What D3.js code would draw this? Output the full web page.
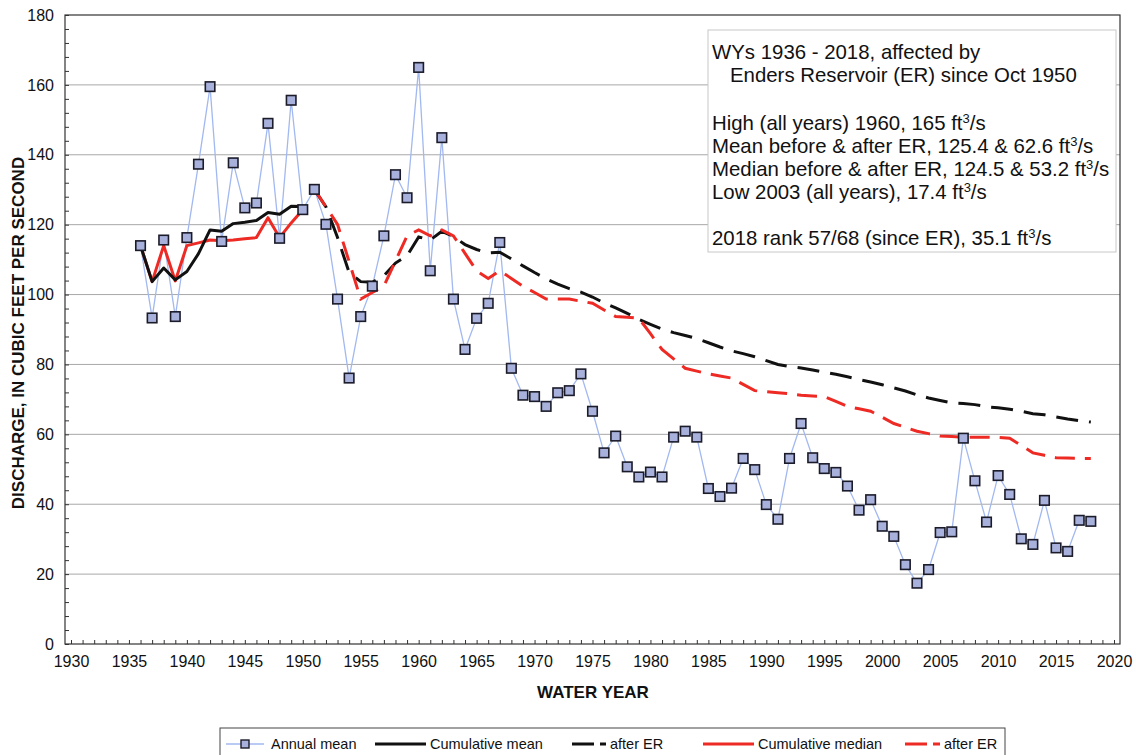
<!DOCTYPE html>
<html>
<head>
<meta charset="utf-8">
<script src="https://cdn.jsdelivr.net/npm/d3@7"></script>
<style>
  body { margin: 0; background: #fff; }
  svg { display: block; font-family: "Liberation Sans", Arial, sans-serif; }
</style>
</head>
<body>
<div id="chart"></div>
<script>
// water years 1936-2018
const years = d3.range(1936, 2019);
const annualMean = [
  114.0, 93.3, 115.6, 93.7, 116.3, 137.3, 159.5, 115.2, 137.7, 124.8,
  126.2, 149.0, 116.1, 155.6, 124.3, 130.1, 120.1, 98.7, 76.1, 93.7,
  102.4, 116.8, 134.3, 127.7, 165.0, 106.8, 144.9, 98.7, 84.3, 93.2,
  97.5, 114.9, 78.9, 71.2, 70.8, 68.0, 71.9, 72.5, 77.3, 66.6,
  54.7, 59.5, 50.7, 47.8, 49.2, 47.8, 59.2, 60.9, 59.2, 44.5,
  42.2, 44.6, 53.1, 49.9, 39.9, 35.7, 53.1, 63.1, 53.3, 50.2,
  49.1, 45.2, 38.3, 41.3, 33.7, 30.8, 22.7, 17.4, 21.3, 31.9,
  32.1, 58.9, 46.7, 34.9, 48.2, 42.8, 30.1, 28.5, 41.1, 27.5,
  26.5, 35.4, 35.1
];

// before Enders Reservoir, 1936-1950
const yearsBefore = d3.range(1936, 1951);
const cumMeanBefore = [114.0, 103.7, 107.6, 104.2, 106.6, 111.7, 118.5, 118.1, 120.3, 120.7, 121.2, 123.5, 123.0, 125.3, 125.2];
const cumMedianBefore = [114.0, 103.7, 114.0, 103.9, 114.0, 114.8, 115.6, 115.4, 115.6, 116.0, 116.3, 122.0, 116.3, 120.5, 124.3];

// after Enders Reservoir, 1951-2018
const yearsAfter = d3.range(1951, 2019);
const cumMeanAfter = [
  130.1, 125.1, 116.3, 106.3, 103.7, 103.5, 105.4, 109.0, 111.1, 116.5,
  115.6, 118.1, 116.6, 114.3, 112.9, 111.9, 112.1, 110.2, 108.2, 106.3,
  104.5, 103.0, 101.7, 100.7, 99.3, 97.6, 96.2, 94.6, 92.9, 91.5,
  90.1, 89.1, 88.3, 87.4, 86.2, 85.0, 83.9, 83.1, 82.2, 81.1,
  80.0, 79.4, 79.0, 78.4, 77.8, 77.2, 76.5, 75.7, 75.0, 74.2,
  73.3, 72.4, 71.3, 70.4, 69.7, 69.0, 68.8, 68.5, 67.9, 67.6,
  67.2, 66.6, 65.9, 65.6, 65.0, 64.4, 63.9, 63.5
];
const cumMedianAfter = [
  130.1, 125.1, 120.1, 109.4, 98.7, 100.6, 102.4, 109.6, 116.8, 118.5,
  116.8, 118.5, 116.8, 111.8, 106.8, 104.6, 106.8, 104.6, 102.4, 100.6,
  98.7, 98.7, 98.7, 98.1, 97.5, 95.6, 93.7, 93.5, 93.2, 88.8,
  84.3, 81.6, 78.9, 78.1, 77.3, 76.7, 76.1, 74.3, 72.5, 72.2,
  71.9, 71.6, 71.2, 71.0, 70.8, 69.4, 68.0, 67.3, 66.6, 64.9,
  63.1, 62.0, 60.9, 60.2, 59.5, 59.4, 59.2, 59.2, 59.2, 59.1,
  58.9, 56.8, 54.7, 54.0, 53.3, 53.2, 53.1, 53.1
];

const yTicks = [0, 20, 40, 60, 80, 100, 120, 140, 160, 180];
const xTicks = [1930, 1935, 1940, 1945, 1950, 1955, 1960, 1965, 1970, 1975, 1980, 1985, 1990, 1995, 2000, 2005, 2010, 2015, 2020];

const noteLines = [
  { text: "WYs 1936 - 2018, affected by" },
  { text: "Enders Reservoir (ER) since Oct 1950", indent: true },
  null,
  { text: "High (all years) 1960, 165 ft", sup: "3", tail: "/s" },
  { text: "Mean before & after ER, 125.4 & 62.6 ft", sup: "3", tail: "/s" },
  { text: "Median before & after ER, 124.5 & 53.2 ft", sup: "3", tail: "/s" },
  { text: "Low 2003 (all years), 17.4 ft", sup: "3", tail: "/s" },
  null,
  { text: "2018 rank 57/68 (since ER), 35.1 ft", sup: "3", tail: "/s" }
];

const legendItems = [
  { label: "Annual mean", kind: "marker", x1: 226, x2: 264, tx: 271 },
  { label: "Cumulative mean", kind: "line", color: "#111", x1: 375, x2: 426, tx: 430 },
  { label: "after ER", kind: "dash", color: "#111", x1: 572, x2: 606, tx: 610 },
  { label: "Cumulative median", kind: "line", color: "#ee2a24", x1: 703, x2: 754, tx: 758 },
  { label: "after ER", kind: "dash", color: "#ee2a24", x1: 905, x2: 940, tx: 944 }
];

const W = 1136, H = 755;
const frame = { left: 65, right: 1120, top: 15, bottom: 644 };

const svg = d3.select("#chart").append("svg")
  .attr("width", W).attr("height", H);

const x = d3.scaleLinear().domain([1930, 2020]).range([71, 1114]);
const y = d3.scaleLinear().domain([0, 180]).range([frame.bottom, frame.top]);

// gridlines
svg.append("g")
  .selectAll("line")
  .data(yTicks.filter(d => d > 0 && d < 180))
  .join("line")
  .attr("x1", frame.left).attr("x2", frame.right)
  .attr("y1", d => y(d)).attr("y2", d => y(d))
  .attr("stroke", "#a8a8a8").attr("stroke-width", 1);

// frame
svg.append("rect")
  .attr("x", frame.left).attr("y", frame.top)
  .attr("width", frame.right - frame.left).attr("height", frame.bottom - frame.top)
  .attr("fill", "none").attr("stroke", "#333").attr("stroke-width", 1.2);

// x axis: minor ticks every year (inward), labels every 5
const xMinor = svg.append("g")
  .attr("transform", `translate(0,${frame.bottom})`)
  .call(d3.axisBottom(x).tickValues(d3.range(1930, 2021)).tickSize(-4).tickFormat(""));
xMinor.select(".domain").remove();
xMinor.selectAll("line").attr("stroke", "#333");

const xMajor = svg.append("g")
  .attr("transform", `translate(0,${frame.bottom})`)
  .call(d3.axisBottom(x).tickValues(xTicks).tickSize(0).tickPadding(12).tickFormat(d3.format("d")));
xMajor.select(".domain").remove();
xMajor.selectAll("text")
  .attr("font-size", 16).attr("fill", "#111")
  .attr("font-family", "Liberation Sans, Arial, sans-serif");

// y axis: minor ticks every 4 (inward), labels every 20
const yMinor = svg.append("g")
  .attr("transform", `translate(${frame.left},0)`)
  .call(d3.axisLeft(y).tickValues(d3.range(0, 181, 4)).tickSize(-4).tickFormat(""));
yMinor.select(".domain").remove();
yMinor.selectAll("line").attr("stroke", "#333");

const yMajor = svg.append("g")
  .attr("transform", `translate(${frame.left},0)`)
  .call(d3.axisLeft(y).tickValues(yTicks).tickSize(0).tickPadding(11));
yMajor.select(".domain").remove();
yMajor.selectAll("text")
  .attr("font-size", 16).attr("fill", "#111")
  .attr("font-family", "Liberation Sans, Arial, sans-serif");

// axis titles
svg.append("text")
  .attr("x", 593).attr("y", 698)
  .attr("text-anchor", "middle")
  .attr("font-size", 17).attr("font-weight", "bold").attr("fill", "#111")
  .text("WATER YEAR");

svg.append("text")
  .attr("transform", "translate(24,333) rotate(-90)")
  .attr("text-anchor", "middle")
  .attr("font-size", 17).attr("font-weight", "bold").attr("fill", "#111")
  .text("DISCHARGE, IN CUBIC FEET PER SECOND");

// annotation box
const note = svg.append("g");
note.append("rect")
  .attr("x", 708).attr("y", 30).attr("width", 408).attr("height", 222)
  .attr("fill", "#fff").attr("stroke", "#c8c8c8").attr("stroke-width", 1);

const noteY = [59, 82, null, 130, 153, 176, 199, null, 245];
noteLines.forEach((ln, i) => {
  if (!ln) return;
  const t = note.append("text")
    .attr("x", ln.indent ? 730 : 712)
    .attr("y", noteY[i])
    .attr("font-size", 20.4).attr("fill", "#111");
  t.append("tspan").text(ln.text);
  if (ln.sup) {
    t.append("tspan").attr("dy", -7).attr("font-size", 13).text(ln.sup);
    t.append("tspan").attr("dy", 7).text(ln.tail);
  }
});

// series
const lineGen = d3.line().x(d => x(d[0])).y(d => y(d[1]));

svg.append("path")
  .datum(years.map((yr, i) => [yr, annualMean[i]]))
  .attr("d", lineGen)
  .attr("fill", "none").attr("stroke", "#a2b8f0").attr("stroke-width", 1.3);

svg.append("path")
  .datum(yearsBefore.map((yr, i) => [yr, cumMedianBefore[i]]))
  .attr("d", lineGen)
  .attr("fill", "none").attr("stroke", "#ee2a24").attr("stroke-width", 3)
  .attr("stroke-linejoin", "round");

svg.append("path")
  .datum(yearsBefore.map((yr, i) => [yr, cumMeanBefore[i]]))
  .attr("d", lineGen)
  .attr("fill", "none").attr("stroke", "#111").attr("stroke-width", 3)
  .attr("stroke-linejoin", "round");

svg.append("path")
  .datum(yearsAfter.map((yr, i) => [yr, cumMeanAfter[i]]))
  .attr("d", lineGen)
  .attr("fill", "none").attr("stroke", "#111").attr("stroke-width", 3)
  .attr("stroke-dasharray", "22,11");

svg.append("path")
  .datum(yearsAfter.map((yr, i) => [yr, cumMedianAfter[i]]))
  .attr("d", lineGen)
  .attr("fill", "none").attr("stroke", "#ee2a24").attr("stroke-width", 3)
  .attr("stroke-dasharray", "20,10");

const ms = 9.5;
svg.append("g")
  .selectAll("rect")
  .data(years.map((yr, i) => [yr, annualMean[i]]))
  .join("rect")
  .attr("x", d => x(d[0]) - ms / 2).attr("y", d => y(d[1]) - ms / 2)
  .attr("width", ms).attr("height", ms)
  .attr("fill", "#a7b1db").attr("stroke", "#1b1b2a").attr("stroke-width", 1.6);

// legend
const legend = svg.append("g");
legend.append("rect")
  .attr("x", 220).attr("y", 728).attr("width", 785).attr("height", 40)
  .attr("fill", "#fff").attr("stroke", "#444").attr("stroke-width", 1);

const ly = 744;
legendItems.forEach(it => {
  if (it.kind === "marker") {
    legend.append("line")
      .attr("x1", it.x1).attr("x2", it.x2).attr("y1", ly).attr("y2", ly)
      .attr("stroke", "#a2b8f0").attr("stroke-width", 1.3);
    legend.append("rect")
      .attr("x", (it.x1 + it.x2) / 2 - 4).attr("y", ly - 4)
      .attr("width", 8).attr("height", 8)
      .attr("fill", "#a7b1db").attr("stroke", "#1b1b2a").attr("stroke-width", 1.4);
  } else if (it.kind === "line") {
    legend.append("line")
      .attr("x1", it.x1).attr("x2", it.x2).attr("y1", ly).attr("y2", ly)
      .attr("stroke", it.color).attr("stroke-width", 3);
  } else {
    legend.append("line")
      .attr("x1", it.x1).attr("x2", it.x2).attr("y1", ly).attr("y2", ly)
      .attr("stroke", it.color).attr("stroke-width", 3)
      .attr("stroke-dasharray", "22,6");
  }
  legend.append("text")
    .attr("x", it.tx).attr("y", ly + 5)
    .attr("font-size", 14.5).attr("fill", "#111")
    .text(it.label);
});
</script>
</body>
</html>
